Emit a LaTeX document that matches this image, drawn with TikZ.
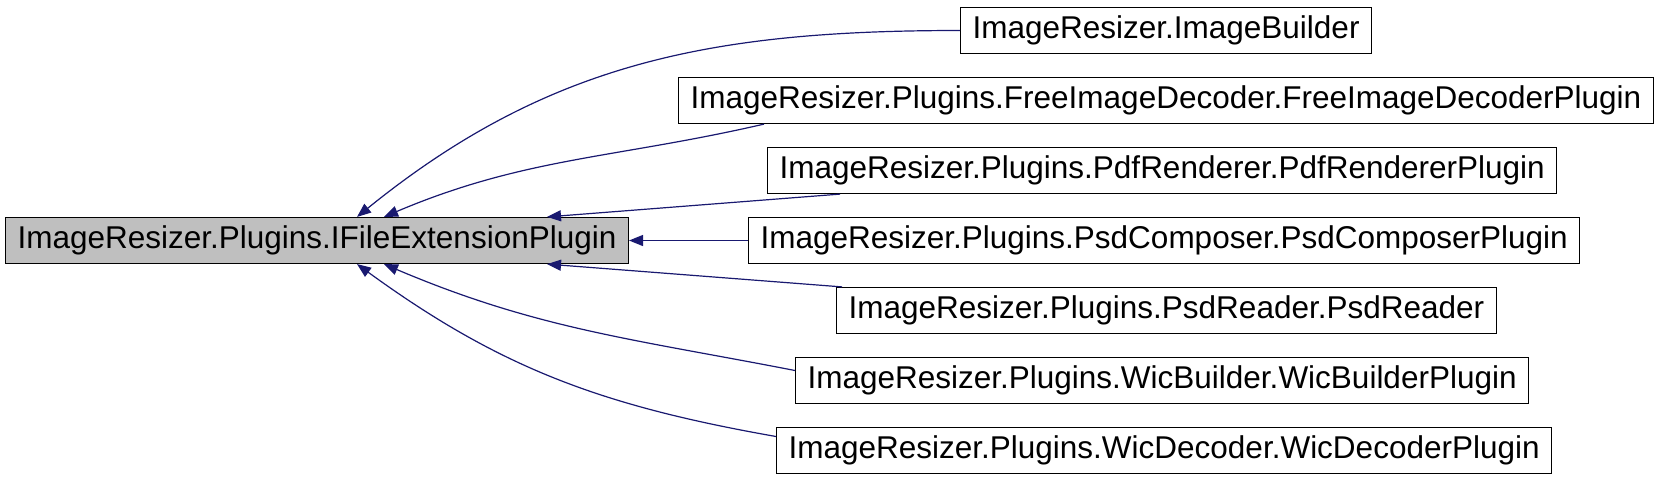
\documentclass[tikz,border=0pt]{standalone}
\usepackage{fontspec}
\setmainfont{Liberation Sans}
\usetikzlibrary{arrows.meta,positioning,calc}
\definecolor{edgeBlue}{HTML}{191970}
\definecolor{baseGrey}{HTML}{BFBFBF}

\begin{document}
\begin{tikzpicture}[
  x=1pt,y=1pt,
  classbox/.style={draw=black,line width=1.2pt,fill=white,anchor=west,minimum height=46pt,inner xsep=12pt,inner ysep=0pt,font=\fontsize{31.5}{37}\selectfont},
  basebox/.style={classbox,fill=baseGrey},
  inherit/.style={-{Triangle[length=14pt,width=11pt]},line width=1.2pt,edgeBlue}]
  \useasboundingbox (0,0) rectangle (1659,-480);
  \node[basebox] (base) at (5,-240.5) {ImageResizer.Plugins.IFileExtensionPlugin};
  \node[classbox] (imgbuilder) at (960,-30.5) {ImageResizer.ImageBuilder};
  \node[classbox] (freeimg) at (678,-100.5) {ImageResizer.Plugins.FreeImageDecoder.FreeImageDecoderPlugin};
  \node[classbox] (pdfrend) at (767,-170.5) {ImageResizer.Plugins.PdfRenderer.PdfRendererPlugin};
  \node[classbox] (psdcomp) at (748,-240.5) {ImageResizer.Plugins.PsdComposer.PsdComposerPlugin};
  \node[classbox] (psdread) at (836,-310.5) {ImageResizer.Plugins.PsdReader.PsdReader};
  \node[classbox] (wicbuild) at (795,-380.5) {ImageResizer.Plugins.WicBuilder.WicBuilderPlugin};
  \node[classbox] (wicdec) at (776,-450.5) {ImageResizer.Plugins.WicDecoder.WicDecoderPlugin};
  \draw[inherit] (imgbuilder.west) to[out=180,in=39] ([xshift=40]base.north);
  \draw[inherit] ([xshift=86]freeimg.south west) to[out=193,in=23] ([xshift=67]base.north);
  \draw[inherit] ([xshift=73]pdfrend.south west) -- ([xshift=230]base.north);
  \draw[inherit] (psdcomp.west) -- (base.east);
  \draw[inherit] ([xshift=6]psdread.north west) -- ([xshift=230]base.south);
  \draw[inherit] ([yshift=10]wicbuild.west) to[out=169,in=-23] ([xshift=67]base.south);
  \draw[inherit] ([yshift=14]wicdec.west) to[out=170,in=-36] ([xshift=40]base.south);
\end{tikzpicture}
\end{document}
